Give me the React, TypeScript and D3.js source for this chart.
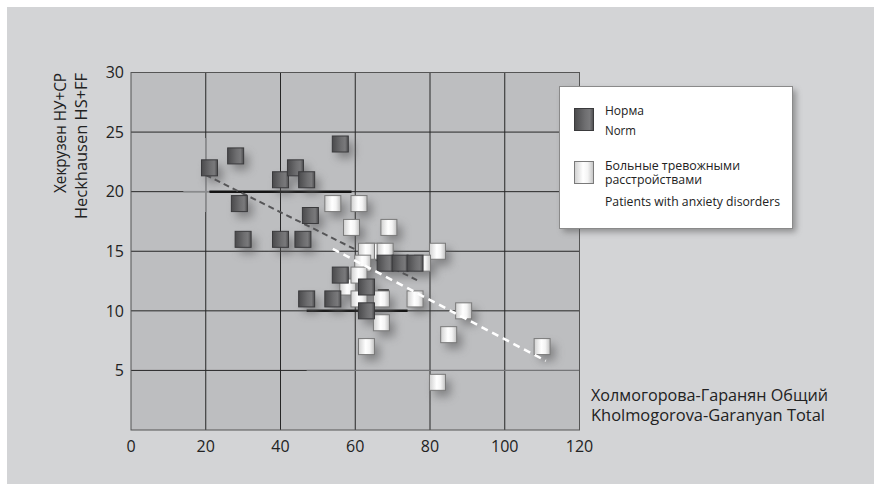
import React from "react";
import * as d3 from "d3";

const xTicks = [0, 20, 40, 60, 80, 100, 120];
const yTicks = [5, 10, 15, 20, 25, 30];

// Норма / Norm  [x, y]
const normPoints: [number, number][] = [
  [21, 22], [28, 23], [29, 19], [30, 16], [40, 21], [44, 22], [47, 21], [48, 18],
  [40, 16], [46, 16], [56, 24], [47, 11], [54, 11], [56, 13], [63, 12], [63, 10],
  [68, 14], [72, 14], [76, 14],
];

// Больные тревожными расстройствами / Patients with anxiety disorders
const anxPoints: [number, number][] = [
  [54, 19], [61, 19], [59, 17], [69, 17], [65, 15], [63, 15], [68, 15], [82, 15],
  [78, 14], [62, 14], [58, 12], [61, 13], [61, 11], [67, 11], [76, 11], [89, 10],
  [67, 9], [85, 8], [63, 7], [110, 7], [82, 4],
];

const normTrend: [number, number][] = [[20, 21.4], [77, 12.5]];
const anxTrend: [number, number][] = [[54, 15.2], [111, 5.8]];

// thick horizontal bars [x0, x1, y]
const meanBars: [number, number, number][] = [[21, 59, 20], [47, 74, 10], [66, 69, 11.7]];

const yTitle = ["Хекрузен НУ+СР", "Heckhausen HS+FF"];
const xTitle = ["Холмогорова-Гаранян Общий", "Kholmogorova-Garanyan Total"];
const normLabel = ["Норма", "Norm"];
const anxLabel = ["Больные тревожными", "расстройствами", "Patients with anxiety disorders"];

export default function App() {
  const W = 874, H = 484;
  const x = d3.scaleLinear().domain([0, 120]).range([131, 579.5]);
  const y = d3.scaleLinear().domain([0, 30]).range([430, 72.5]);
  const S = 16;
  const line = d3.line<[number, number]>().x(d => x(d[0])).y(d => y(d[1]));
  const font = "'Open Sans', 'DejaVu Sans', sans-serif";

  const x0 = x(0), x1 = x(120), yTop = y(30), yBot = y(0);

  const lt = (s: string, xx: number, yy: number, len: number) => (
    <text key={s} x={xx} y={yy} fontFamily={font} fontSize={13.5} fill="#222"
      textLength={len} lengthAdjust="spacingAndGlyphs">{s}</text>
  );

  return (
    <svg width={W} height={H} style={{ position: "absolute", left: 0, top: 0 }}>
      <defs>
        <linearGradient id="gDark" x1="0" x2="1" y1="0" y2="0">
          <stop offset="0" stopColor="#4a4a4c" />
          <stop offset="0.55" stopColor="#6e6e70" />
          <stop offset="0.8" stopColor="#79797b" />
          <stop offset="1" stopColor="#4e4e50" />
        </linearGradient>
        <linearGradient id="gLight" x1="0" x2="1" y1="0" y2="0">
          <stop offset="0" stopColor="#d0d0d0" />
          <stop offset="0.45" stopColor="#ffffff" />
          <stop offset="0.7" stopColor="#f4f4f4" />
          <stop offset="1" stopColor="#c2c2c2" />
        </linearGradient>
        <filter id="blur" x="-50%" y="-50%" width="200%" height="200%">
          <feGaussianBlur stdDeviation="5" />
        </filter>
        <filter id="lshadow" x="-20%" y="-20%" width="140%" height="140%">
          <feGaussianBlur stdDeviation="3" />
        </filter>
      </defs>

      <rect x={0} y={0} width={W} height={H} fill="#ffffff" />
      <rect x={7} y={7} width={W - 7} height={H - 7} fill="#d3d4d6" />

      {/* plot area */}
      <rect x={x0} y={yTop} width={x1 - x0} height={yBot - yTop} fill="#bdbec0" />

      {/* grid */}
      {xTicks.filter(t => t > 0 && t < 120).map(t => (
        <line key={"gx" + t} x1={x(t)} x2={x(t)} y1={yTop} y2={yBot} stroke="#262626" strokeWidth={1} />
      ))}
      {yTicks.filter(t => t < 30).map(t => (
        <line key={"gy" + t} x1={x0} x2={x1} y1={y(t)} y2={y(t)} stroke="#262626" strokeWidth={1} />
      ))}
      {/* lighter grid segments */}
      <line x1={x(47)} x2={x1} y1={y(5)} y2={y(5)} stroke="#7d7e80" strokeWidth={1} />
      <line x1={x(14)} x2={x(21)} y1={y(20)} y2={y(20)} stroke="#8a8b8d" strokeWidth={1.5} />
      <line x1={x(20)} x2={x(20)} y1={y(24.5)} y2={y(18.3)} stroke="#8a8b8d" strokeWidth={1.5} />

      {/* frame */}
      <rect x={x0} y={yTop} width={x1 - x0} height={yBot - yTop} fill="none" stroke="#555" strokeWidth={1} />

      {/* thick bars */}
      {meanBars.map((b, i) => (
        <line key={"mb" + i} x1={x(b[0])} x2={x(b[1])} y1={y(b[2])} y2={y(b[2])} stroke="#141414" strokeWidth={2.5} />
      ))}

      {/* shadows */}
      <g filter="url(#blur)" opacity={0.65}>
        {[...anxPoints, ...normPoints].map((p, i) => (
          <rect key={"s" + i} x={x(p[0]) - S / 2 + 5} y={y(p[1]) - S / 2 + 6} width={S} height={S} fill="#5e5e60" />
        ))}
      </g>

      {/* trend lines */}
      <path d={line(normTrend) || ""} stroke="#555557" strokeWidth={2} strokeDasharray="6 4" fill="none" />

      {/* anxiety squares */}
      {anxPoints.map((p, i) => (
        <rect key={"a" + i} x={x(p[0]) - S / 2} y={y(p[1]) - S / 2} width={S} height={S}
          fill="url(#gLight)" stroke="#7a7a7a" strokeWidth={1} />
      ))}
      {/* norm squares */}
      {normPoints.map((p, i) => (
        <rect key={"n" + i} x={x(p[0]) - S / 2} y={y(p[1]) - S / 2} width={S} height={S}
          fill="url(#gDark)" stroke="#3a3a3c" strokeWidth={1} />
      ))}

      <path d={line(anxTrend) || ""} stroke="#ffffff" strokeWidth={2.5} strokeDasharray="7 5" fill="none" />

      {/* axis tick labels */}
      {xTicks.map(t => (
        <text key={"tx" + t} x={x(t)} y={452} textAnchor="middle" fontFamily={font} fontSize={16} fill="#222">{t}</text>
      ))}
      {yTicks.map(t => (
        <text key={"ty" + t} x={124} y={y(t)} dy="0.36em" textAnchor="end" fontFamily={font} fontSize={16} fill="#222">{t}</text>
      ))}

      {/* y title */}
      {yTitle.map((s, i) => (
        <text key={"yt" + i} transform={`translate(${66 + i * 21},73) rotate(-90)`} textAnchor="end"
          fontFamily={font} fontSize={15.5} fill="#222" textLength={i === 0 ? 120 : 146}
          lengthAdjust="spacingAndGlyphs">{s}</text>
      ))}

      {/* x title */}
      {xTitle.map((s, i) => (
        <text key={"xt" + i} x={591} y={401 + i * 20} fontFamily={font} fontSize={16} fill="#222"
          textLength={i === 0 ? 237 : 234} lengthAdjust="spacingAndGlyphs">{s}</text>
      ))}

      {/* legend */}
      <rect x={563} y={90} width={233} height={142} fill="#555" opacity={0.55} filter="url(#lshadow)" />
      <rect x={559.5} y={86.5} width={233} height={142} fill="#ffffff" stroke="#8a8a8a" strokeWidth={1} />
      <rect x={574.5} y={108.5} width={19} height={22} fill="url(#gDark)" stroke="#3a3a3c" />
      <rect x={574.5} y={161.5} width={19} height={22} fill="url(#gLight)" stroke="#7a7a7a" />
      {lt(normLabel[0], 605, 115, 39)}
      {lt(normLabel[1], 605, 135, 31)}
      {lt(anxLabel[0], 605, 170, 135)}
      {lt(anxLabel[1], 605, 184, 97)}
      {lt(anxLabel[2], 605, 206, 175)}
    </svg>
  );
}
